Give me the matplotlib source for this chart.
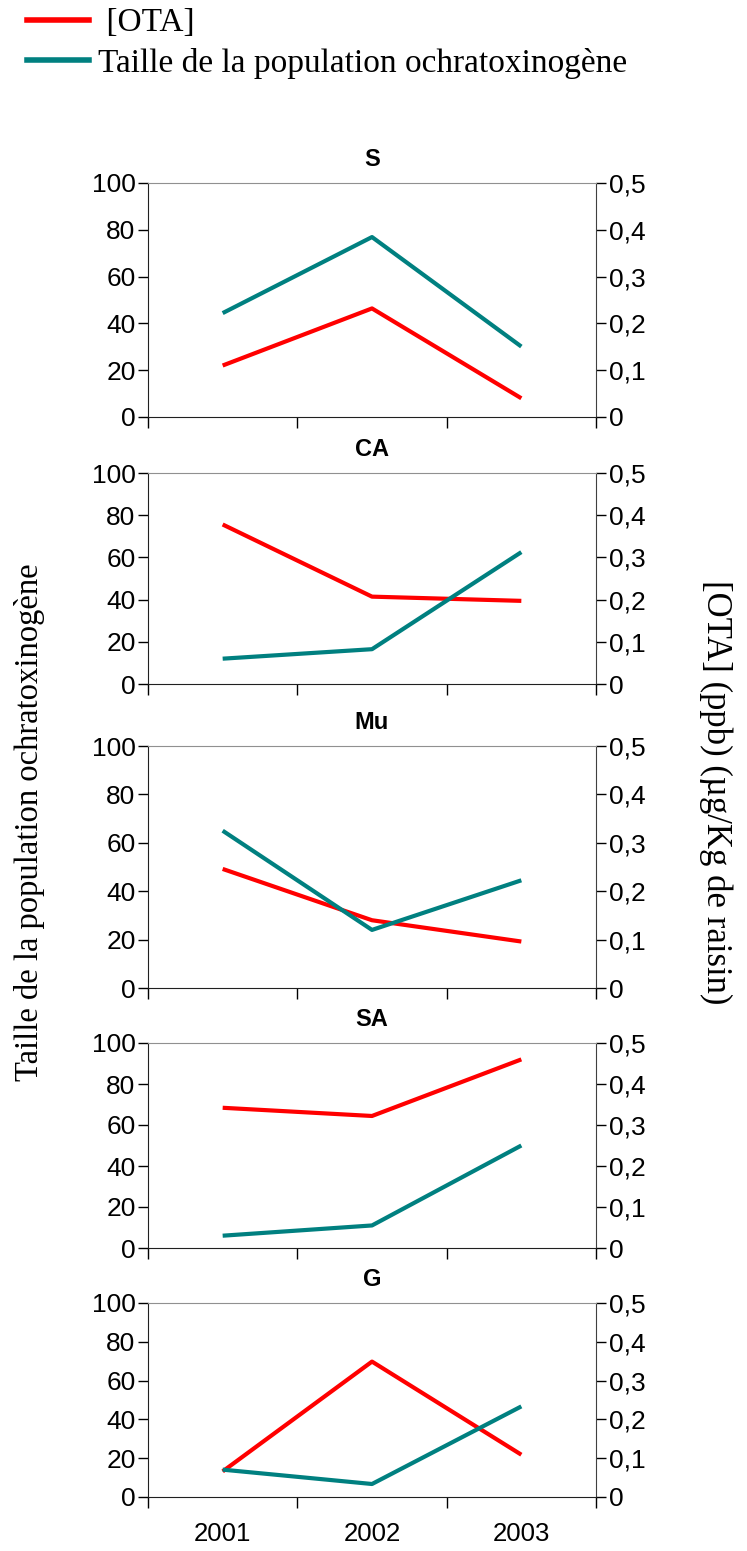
import matplotlib.pyplot as plt
from matplotlib.lines import Line2D
from matplotlib.ticker import FuncFormatter

years = ['2001', '2002', '2003']
sites = ['S', 'CA', 'Mu', 'SA', 'G']

# taille de la population ochratoxinogene (axe gauche)
pop = {
    'S':  [44.4, 76.9, 30.1],
    'CA': [12.0, 16.5, 62.5],
    'Mu': [65.0, 24.0, 44.5],
    'SA': [6.0, 11.0, 50.0],
    'G':  [14.1, 6.7, 46.7],
}
# [OTA] en ppb (axe droit)
ota = {
    'S':  [0.110, 0.232, 0.040],
    'CA': [0.378, 0.207, 0.197],
    'Mu': [0.246, 0.140, 0.096],
    'SA': [0.342, 0.322, 0.460],
    'G':  [0.066, 0.349, 0.109],
}

W, H = 747, 1551
# pixel rows of each panel (top, bottom)
rows = {'S': (183, 417), 'CA': (473, 684), 'Mu': (746, 988),
        'SA': (1043, 1248), 'G': (1303, 1497)}
x0, x1 = 148, 596

red = '#ff0000'
teal = '#008080'
sans = 'Liberation Sans'
serif = 'Liberation Serif'

fig = plt.figure(figsize=(W / 100, H / 100), dpi=100)

for site in sites:
    top, bot = rows[site]
    ax = fig.add_axes([x0 / W, 1 - bot / H, (x1 - x0) / W, (bot - top) / H])
    ax2 = ax.twinx()
    ax.set_zorder(ax2.get_zorder() + 1)
    ax.patch.set_visible(False)

    xs = [i + 0.5 for i in range(len(years))]
    ax.plot(xs, pop[site], color=teal, lw=3, solid_capstyle='butt')
    ax2.plot(xs, ota[site], color=red, lw=3, solid_capstyle='butt')

    ax.set_xlim(0, 3)
    ax.set_ylim(0, 100)
    ax2.set_ylim(0, 0.5)
    ax.set_yticks([0, 20, 40, 60, 80, 100])
    ax2.set_yticks([0, 0.1, 0.2, 0.3, 0.4, 0.5])
    ax2.yaxis.set_major_formatter(FuncFormatter(
        lambda v, p: '0' if v == 0 else ('%.1f' % v).replace('.', ',')))
    ax.set_xticks([0, 1, 2, 3])
    ax.set_xticklabels([])
    ax.set_xticks(xs, minor=True)
    ax.tick_params(axis='x', which='minor', length=0)
    if site == 'G':
        ax.set_xticklabels(years, minor=True, fontfamily=sans, fontsize=18.5)
        ax.tick_params(axis='x', which='minor', pad=18)

    ax.tick_params(axis='y', length=7, width=1, labelsize=19, pad=2)
    ax.tick_params(axis='x', which='major', length=8, width=1, direction='out')
    ax2.tick_params(axis='y', length=7, width=1, labelsize=19, pad=2)
    for lab in ax.get_yticklabels() + ax2.get_yticklabels():
        lab.set_fontfamily(sans)

    ax.spines['right'].set_visible(False)
    ax.spines['top'].set_color('#909090')
    ax.spines['left'].set_color('#202020')
    ax.spines['bottom'].set_color('#202020')
    for s in ['left', 'top', 'bottom']:
        ax2.spines[s].set_visible(False)
    ax2.spines['right'].set_color('#404040')

    ax.set_title(site, fontfamily=sans, fontweight='bold', fontsize=17, pad=12)

# axis labels common to all panels
fig.text(30 / W, 1 - 822 / H, 'Taille de la population ochratoxinogène',
         rotation=90, ha='center', va='center', fontfamily=serif, fontsize=23.5)
fig.text(716 / W, 1 - 792 / H, '[OTA] (ppb) (µg/Kg de raisin)',
         rotation=-90, ha='center', va='center', fontfamily=serif, fontsize=25)

handles = [Line2D([], [], color=red, lw=4), Line2D([], [], color=teal, lw=4)]
fig.legend(handles, [' [OTA]', 'Taille de la population ochratoxinogène'],
           loc='upper left', bbox_to_anchor=(27 / W, 1 - 8 / H), frameon=False,
           prop={'family': serif, 'size': 24}, handlelength=1.85,
           handletextpad=0.27, labelspacing=0.28, borderaxespad=0,
           borderpad=0)

fig.savefig('out.png', dpi=100)
